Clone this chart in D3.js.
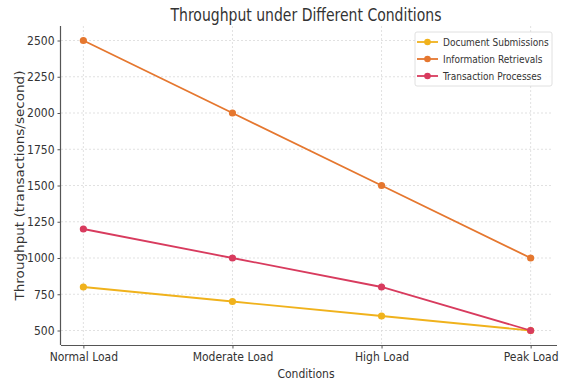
<!DOCTYPE html>
<html>
<head>
<meta charset="utf-8">
<script src="https://cdn.jsdelivr.net/npm/d3@7"></script>
<style>
  html, body { margin: 0; padding: 0; background: #fff; }
  svg { display: block; }
  text { font-family: "DejaVu Sans Condensed", "DejaVu Sans", sans-serif; fill: #333; }
</style>
</head>
<body>
<svg id="chart" width="568" height="385"></svg>
<script>
const categories = ["Normal Load", "Moderate Load", "High Load", "Peak Load"];
const documentSubmissions = [800, 700, 600, 500];
const informationRetrievals = [2500, 2000, 1500, 1000];
const transactionProcesses = [1200, 1000, 800, 500];
const yTicks = [500, 750, 1000, 1250, 1500, 1750, 2000, 2250, 2500];
const seriesNames = ["Document Submissions", "Information Retrievals", "Transaction Processes"];
const seriesColors = ["#f0b21c", "#e5772f", "#d83b5e"];

const series = [documentSubmissions, informationRetrievals, transactionProcesses].map((v, i) => ({
  name: seriesNames[i], color: seriesColors[i],
  values: v.map((yv, j) => ({ x: j, y: yv }))
}));

const svg = d3.select("#chart");
const pL = 61, pR = 553, pT = 26, pB = 345;

const x = d3.scaleLinear().domain([-0.15, categories.length - 1 + 0.15]).range([pL, pR]);
const y = d3.scaleLinear().domain([400, 2600]).range([pB, pT]);

// grid
const grid = svg.append("g");
grid.selectAll(".gy").data(yTicks).enter().append("line")
  .attr("x1", pL).attr("x2", pR)
  .attr("y1", d => y(d)).attr("y2", d => y(d))
  .attr("stroke", "#d9d9d9").attr("stroke-width", 0.8).attr("stroke-dasharray", "2,2");
grid.selectAll(".gx").data(categories).enter().append("line")
  .attr("x1", (d, i) => x(i)).attr("x2", (d, i) => x(i))
  .attr("y1", pT).attr("y2", pB)
  .attr("stroke", "#d9d9d9").attr("stroke-width", 0.8).attr("stroke-dasharray", "2,2");

// axes
const xAxis = d3.axisBottom(x).tickValues(d3.range(categories.length))
  .tickFormat(i => categories[i]).tickSize(3.5).tickPadding(4);
const gx = svg.append("g").attr("transform", `translate(0,${pB})`).call(xAxis);
gx.select(".domain").attr("d", `M${pL},0.5H${pR+4}`).attr("stroke", "#555").attr("stroke-width", 1.2);

const yAxis = d3.axisLeft(y).tickValues(yTicks).tickFormat(d3.format("d")).tickSize(3.5).tickPadding(3);
const gy = svg.append("g").attr("transform", `translate(${pL},0)`).call(yAxis);
gy.select(".domain").attr("d", `M-0.5,${pT}V${pB}`).attr("stroke", "#555").attr("stroke-width", 1.2);

[gx, gy].forEach(g => {
  g.selectAll(".tick line").attr("stroke", "#555");
  g.selectAll(".tick text").attr("font-size", 12)
    .attr("font-family", '"DejaVu Sans Condensed", "DejaVu Sans", sans-serif').attr("fill", "#2a2a2a");
});

// lines
const line = d3.line().x(d => x(d.x)).y(d => y(d.y));
series.forEach(s => {
  svg.append("path").datum(s.values).attr("d", line)
    .attr("fill", "none").attr("stroke", s.color).attr("stroke-width", 1.8);
  svg.append("g").selectAll("circle").data(s.values).enter().append("circle")
    .attr("cx", d => x(d.x)).attr("cy", d => y(d.y)).attr("r", 3.6)
    .attr("fill", s.color);
});

// title & labels
svg.append("text").attr("x", 306).attr("y", 21).attr("text-anchor", "middle")
  .attr("font-size", 18).attr("textLength", 271).attr("lengthAdjust", "spacingAndGlyphs")
  .text("Throughput under Different Conditions");
svg.append("text").attr("x", 306).attr("y", 378).attr("text-anchor", "middle")
  .attr("font-size", 12).text("Conditions");
svg.append("text").attr("transform", `translate(24,${(pT+pB)/2}) rotate(-90)`)
  .attr("text-anchor", "middle").attr("font-size", 13)
  .attr("textLength", 230).attr("lengthAdjust", "spacingAndGlyphs")
  .text("Throughput (transactions/second)");

// legend
const lg = svg.append("g");
lg.append("rect").attr("x", 415).attr("y", 32).attr("width", 137).attr("height", 54)
  .attr("rx", 2).attr("fill", "#fff").attr("fill-opacity", 0.85)
  .attr("stroke", "#d8d8d8").attr("stroke-width", 0.8);
series.forEach((s, i) => {
  const cy = 42 + i * 17;
  lg.append("line").attr("x1", 417).attr("x2", 438).attr("y1", cy).attr("y2", cy)
    .attr("stroke", s.color).attr("stroke-width", 1.8);
  lg.append("circle").attr("cx", 427.5).attr("cy", cy).attr("r", 3.3).attr("fill", s.color);
  lg.append("text").attr("x", 443).attr("y", cy + 3.5).attr("font-size", 10).text(s.name);
});
</script>
</body>
</html>
